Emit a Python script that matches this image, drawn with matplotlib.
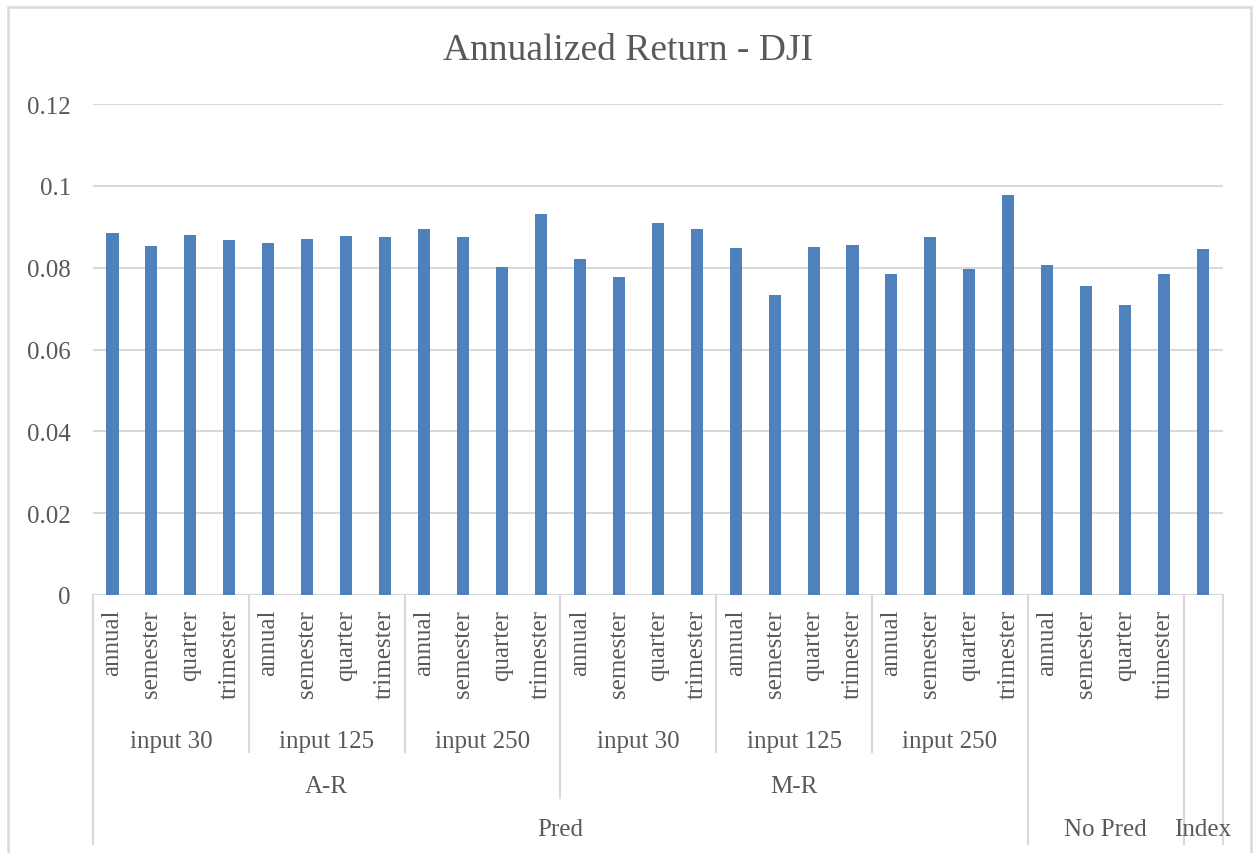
import matplotlib
matplotlib.use('Agg')
import matplotlib.pyplot as plt
import matplotlib.transforms as mtransforms
from matplotlib.lines import Line2D
from matplotlib.patches import Rectangle
import numpy as np

# annualized return per rebalancing period
periods = ["annual", "semester", "quarter", "trimester"]
ar_30 = [0.0885, 0.0853, 0.0879, 0.0868]
ar_125 = [0.0861, 0.0869, 0.0877, 0.0874]
ar_250 = [0.0895, 0.0874, 0.0802, 0.0932]
mr_30 = [0.0820, 0.0778, 0.0910, 0.0895]
mr_125 = [0.0848, 0.0732, 0.0850, 0.0856]
mr_250 = [0.0785, 0.0874, 0.0796, 0.0978]
no_pred = [0.0807, 0.0755, 0.0709, 0.0785]
index_val = [0.0846]

input_labels = ["input 30", "input 125", "input 250"]
model_labels = ["A-R", "M-R"]
top_labels = ["Pred", "No Pred", "Index"]
yticks = [0, 0.02, 0.04, 0.06, 0.08, 0.1, 0.12]
ytick_labels = ["0", "0.02", "0.04", "0.06", "0.08", "0.1", "0.12"]

values = ar_30 + ar_125 + ar_250 + mr_30 + mr_125 + mr_250 + no_pred + index_val
leaf_labels = periods * 7 + [""]

TEXT = '#595959'
GRID = '#D9D9D9'
BAR = '#4F81BD'
FS = 18
plt.rcParams['font.family'] = ['Liberation Serif', 'DejaVu Serif']

W, H = 1256, 854
fig = plt.figure(figsize=(W / 100, H / 100), dpi=100)
fig.patch.set_facecolor('white')

def fy(py):
    # pixel row (from top) -> figure fraction
    return 1 - py / H

ax = fig.add_axes([93 / W, fy(596), (1222.5 - 93) / W, (596 - 105) / H])
x = np.arange(len(values))
ax.bar(x, values, width=0.31, color=BAR, zorder=3)
ax.set_xlim(-0.5, len(values) - 0.5)
ax.set_ylim(0, 0.12)
ax.set_yticks(yticks)
ax.set_yticklabels(ytick_labels)
ax.tick_params(axis='y', length=0, pad=16, labelsize=FS, labelcolor=TEXT)
ax.set_xticks([])
for s in ax.spines.values():
    s.set_visible(False)
ax.yaxis.grid(True, color=GRID, linewidth=1.5, zorder=0)
ax.axhline(0, color=GRID, linewidth=1.5, zorder=2)

# multi-level category axis
tr = mtransforms.blended_transform_factory(ax.transData, fig.transFigure)

def vline(xd, y_bottom):
    fig.add_artist(Line2D([xd, xd], [fy(596), fy(y_bottom)], transform=tr,
                          color=GRID, linewidth=1.5, clip_on=False))

for i, lab in enumerate(leaf_labels):
    if lab:
        fig.text(i, fy(610), lab, transform=tr, rotation=90, ha='center', va='top',
                 fontsize=FS, color=TEXT)

# input groups inside the two models
for k in range(6):
    center = 4 * k + 1.5
    fig.text(center, fy(742), input_labels[k % 3], transform=tr, ha='center',
             va='center', fontsize=FS, color=TEXT)
for b in [3.5, 7.5, 15.5, 19.5]:
    vline(b, 753)

for k, lab in enumerate(model_labels):
    fig.text(12 * k + 5.5, fy(787), lab, transform=tr, ha='center', va='center',
             fontsize=FS, color=TEXT)
vline(11.5, 799)

top_centers = [11.5, 25.5, 28]
for c, lab in zip(top_centers, top_labels):
    fig.text(c, fy(830), lab, transform=tr, ha='center', va='center',
             fontsize=FS, color=TEXT)
for b in [-0.5, 23.5, 27.5, 28.5]:
    vline(b, 845)

fig.text(0.5, fy(51), "Annualized Return - DJI", ha='center', va='center',
         fontsize=27, color=TEXT)

# chart frame
fig.add_artist(Rectangle((8 / W, fy(880)), (1250.5 - 8) / W, (880 - 7.5) / H,
                         transform=fig.transFigure, fill=False, edgecolor=GRID,
                         linewidth=1.8, clip_on=False))

fig.savefig('out.png', dpi=100, facecolor='white')
